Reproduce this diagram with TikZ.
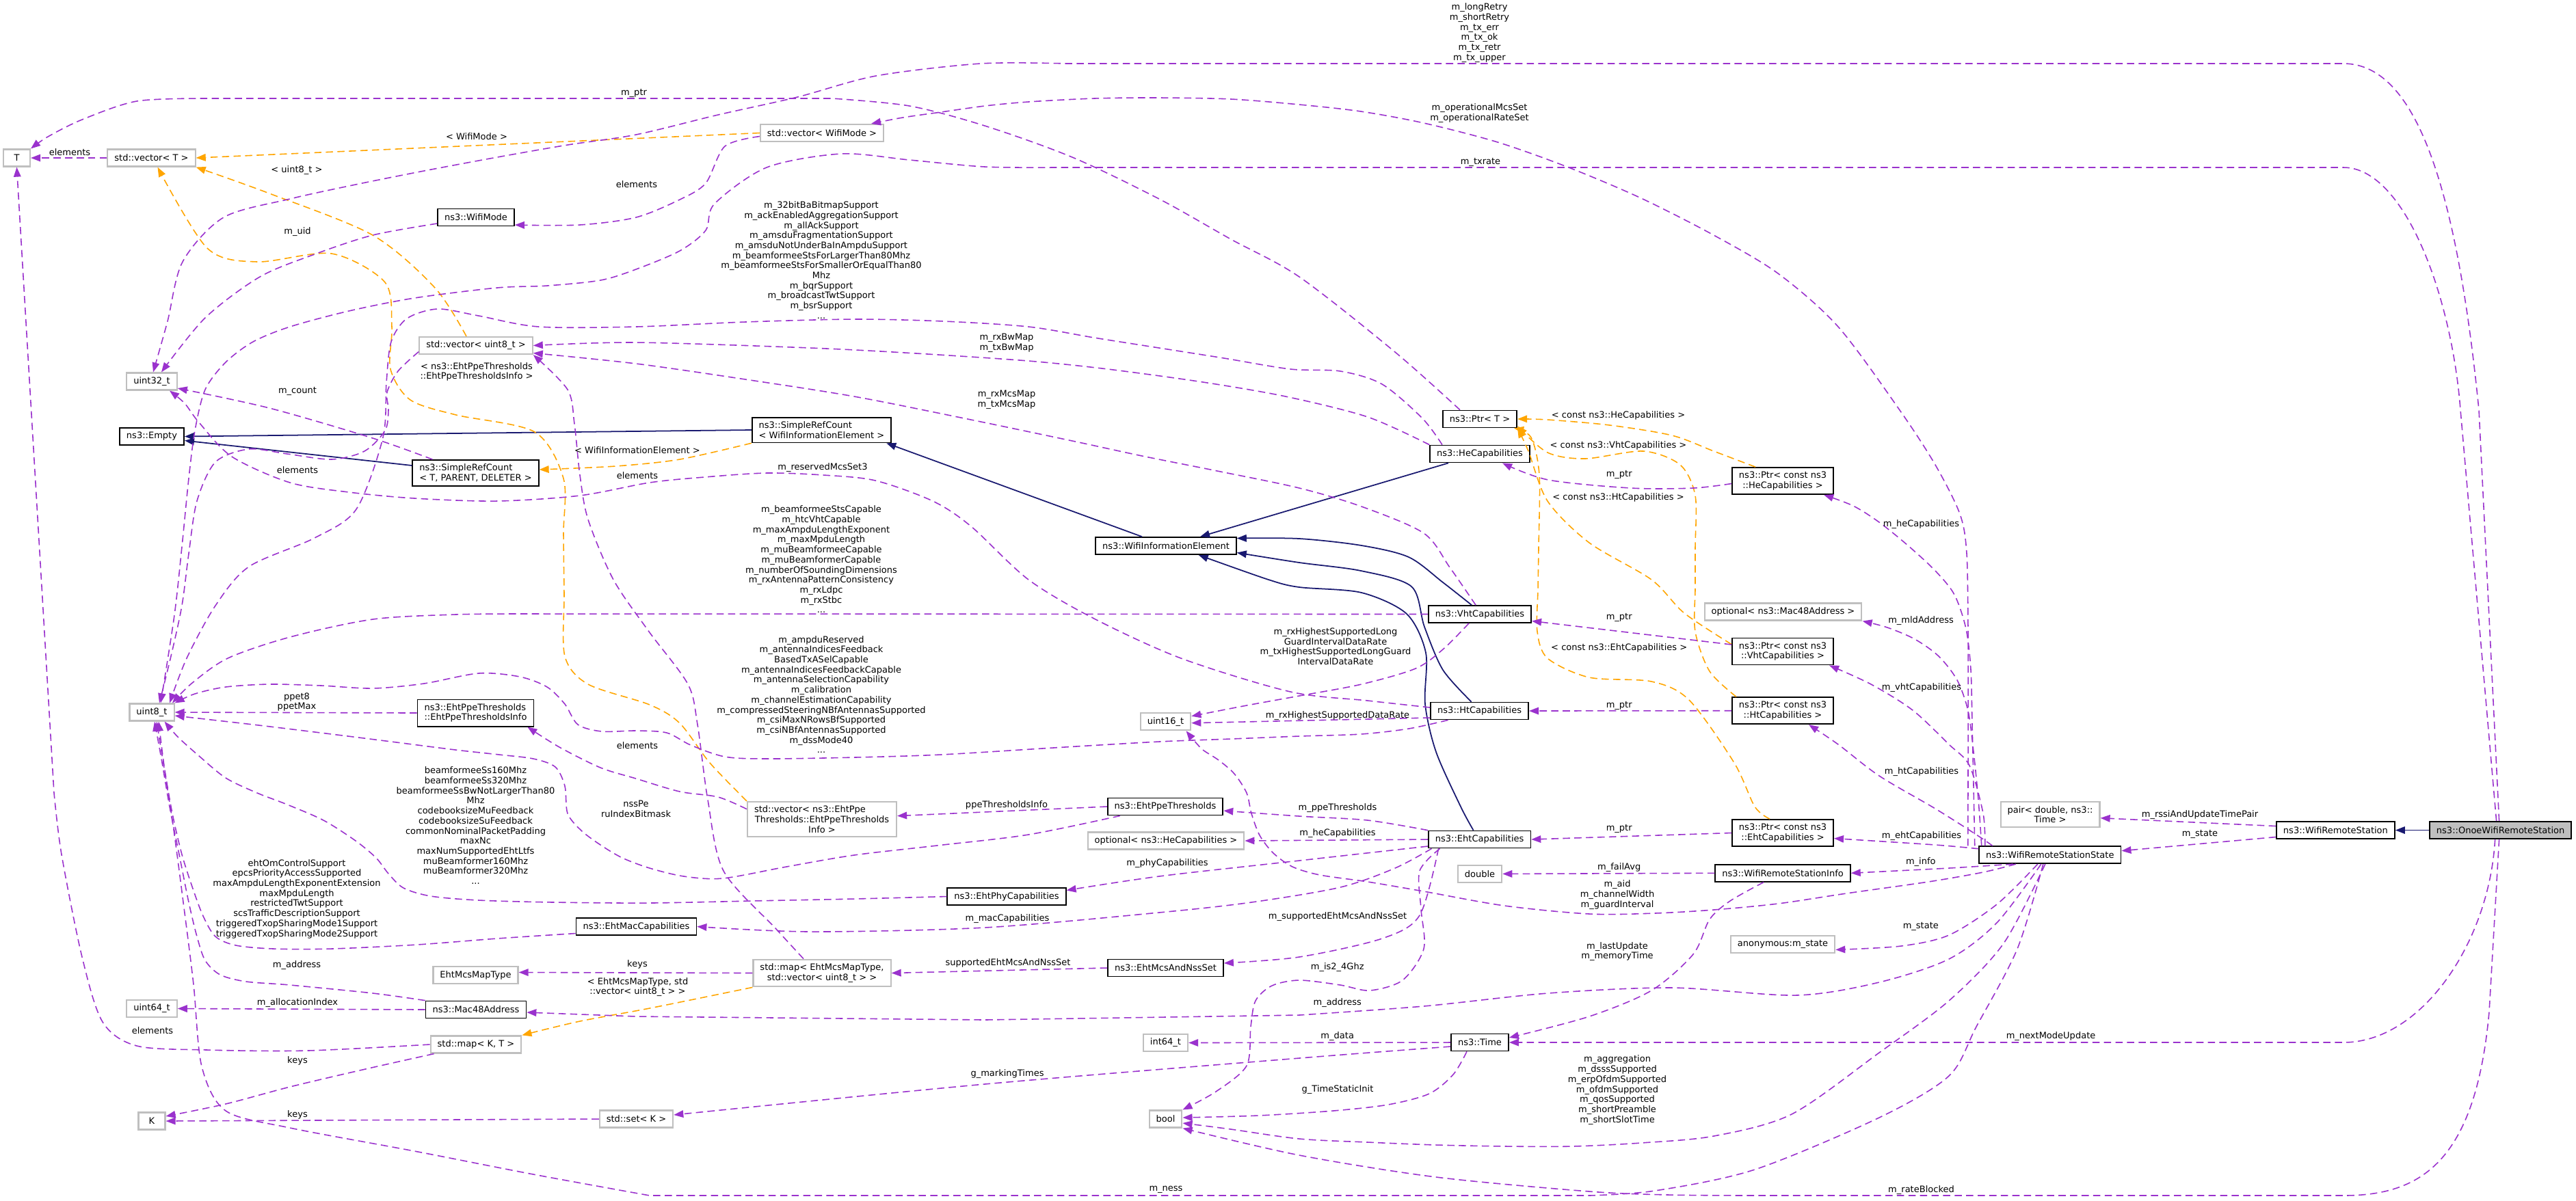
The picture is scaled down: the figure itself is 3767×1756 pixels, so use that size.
\documentclass[tikz,border=0pt]{standalone}
\usepackage{fontspec}
\usepackage{tikz}
\usetikzlibrary{arrows.meta}
\newfontfamily\doxfont{DejaVu Sans}
\newcommand{\doxsize}{\doxfont\fontsize{3.7pt}{4.18pt}\selectfont}
\definecolor{memcolor}{HTML}{9A32CD}
\definecolor{tmplcolor}{HTML}{FFA500}
\definecolor{inhcolor}{HTML}{191970}
\definecolor{boxgray}{HTML}{BFBFBF}
\tikzset{
  box/.style={rectangle, font=\doxsize, inner xsep=0.1cm, inner ysep=0.06cm, minimum height=0.25cm, minimum width=0.39cm, line width=0.5pt, fill=white},
  cls/.style={box, draw=black},
  ext/.style={box, draw=boxgray, line width=0.6pt},
  mainbox/.style={box, draw=black, fill=boxgray},
  lbl/.style={font=\doxsize, inner sep=0pt, align=center},
  mem/.style={draw=memcolor, line width=0.45pt, dash pattern=on 3pt off 1.8pt, -{Triangle[length=4pt,width=3pt]}},
  tmpl/.style={mem, draw=tmplcolor},
  inh/.style={draw=inhcolor, line width=0.5pt, -{Triangle[length=4pt,width=3pt]}},
}
\begin{document}
\begin{tikzpicture}[x=0.01cm, y=-0.01cm]
\useasboundingbox (0,0) rectangle (3767,1756);

\node[ext] (T) at (24.5,231) {T};
\node[ext] (vecT) at (221.5,231) {std::vector< T >};
\node[ext] (vecWM) at (1202,194.5) {std::vector< WifiMode >};
\node[cls] (wifiMode) at (696,318) {ns3::WifiMode};
\node[ext] (vecU8) at (696,505.5) {std::vector< uint8\_t >};
\node[ext] (u32) at (222,558) {uint32\_t};
\node[cls] (empty) at (222,638.5) {ns3::Empty};
\node[cls, align=left] (srcT) at (695.5,692) {ns3::SimpleRefCount\\< T, PARENT, DELETER >};
\node[cls, align=left] (srcWIE) at (1201.5,629) {ns3::SimpleRefCount\\< WifiInformationElement >};
\node[cls] (wie) at (1705,798.5) {ns3::WifiInformationElement};
\node[ext] (u8) at (222,1042) {uint8\_t};
\node[cls, align=left] (ppeInfo) at (695.5,1043) {ns3::EhtPpeThresholds\\::EhtPpeThresholdsInfo};
\node[ext] (u16) at (1704.5,1055.7) {uint16\_t};
\node[ext, align=center] (vecPpe) at (1202,1198.6) {std::vector< ns3::EhtPpe\hspace*{0.35cm}\\Thresholds::EhtPpeThresholds\\Info >};
\node[cls] (ppe) at (1704,1180) {ns3::EhtPpeThresholds};
\node[ext] (optHe) at (1705,1230) {optional< ns3::HeCapabilities >};
\node[cls] (ehtPhy) at (1472,1311.5) {ns3::EhtPhyCapabilities};
\node[cls] (ehtMac) at (930.5,1355.5) {ns3::EhtMacCapabilities};
\node[ext] (mcsType) at (695.5,1426.5) {EhtMcsMapType};
\node[ext, align=center] (mapMcs) at (1202,1423.5) {std::map< EhtMcsMapType,\\std::vector< uint8\_t > >};
\node[cls] (mcsNss) at (1704.5,1416) {ns3::EhtMcsAndNssSet};
\node[ext] (u64) at (222,1475.5) {uint64\_t};
\node[cls] (mac) at (696,1477) {ns3::Mac48Address};
\node[ext] (mapKT) at (696,1528) {std::map< K, T >};
\node[ext] (K) at (222,1640) {K};
\node[ext] (setK) at (930.5,1637) {std::set< K >};
\node[ext] (i64) at (1704.5,1525.5) {int64\_t};
\node[ext] (boolT) at (1704.5,1637) {bool};
\node[cls] (ptrT) at (2164,613) {ns3::Ptr< T >};
\node[cls] (heCap) at (2164,664) {ns3::HeCapabilities};
\node[cls] (vhtCap) at (2164,898.5) {ns3::VhtCapabilities};
\node[cls] (htCap) at (2163.6,1040) {ns3::HtCapabilities};
\node[cls] (ehtCap) at (2163.6,1228) {ns3::EhtCapabilities};
\node[ext] (dbl) at (2164,1278.4) {double};
\node[cls] (timeN) at (2164,1525) {ns3::Time};
\node[cls, align=center] (ptrHe) at (2607,703.5) {ns3::Ptr< const ns3\\::HeCapabilities >};
\node[ext] (optMac) at (2607.5,895) {optional< ns3::Mac48Address >};
\node[cls, align=center] (ptrVht) at (2607,953) {ns3::Ptr< const ns3\\::VhtCapabilities >};
\node[cls, align=center] (ptrHt) at (2607,1039.7) {ns3::Ptr< const ns3\\::HtCapabilities >};
\node[cls, align=center] (ptrEht) at (2607,1218.5) {ns3::Ptr< const ns3\\::EhtCapabilities >};
\node[cls] (info) at (2607,1277.3) {ns3::WifiRemoteStationInfo};
\node[ext] (anon) at (2607,1381.4) {anonymous:m\_state};
\node[ext, align=center] (pair) at (2998,1191.7) {pair< double, ns3::\\Time >};
\node[cls] (wrss) at (2997.8,1250.7) {ns3::WifiRemoteStationState};
\node[cls] (wrs) at (3415.4,1214.5) {ns3::WifiRemoteStation};
\node[mainbox] (onoe) at (3656.6,1214.5) {ns3::OnoeWifiRemoteStation};

\draw[inh] (onoe.west) -- (wrs.east);
\draw[inh] ([yshift=.11cm]srcT.west) -- ([yshift=-.06cm]empty.east);
\draw[inh] (srcWIE.west) -- (empty.east);
\draw[inh] ([xshift=-.35cm]wie.north) -- ([xshift=-.08cm]srcWIE.south east);
\draw[inh] ([xshift=-.46cm]heCap.south) -- ([xshift=.5cm]wie.north);
\draw[inh] plot[smooth] coordinates {([xshift=-.12cm]vhtCap.north) (2110,852) (2060,815) (1991,798) (1900,788) ([yshift=.11cm]wie.east)};
\draw[inh] plot[smooth] coordinates {([xshift=-.12cm]htCap.north) (2110,980) (2083,917) (2064,858) (1990,835) (1900,823) ([yshift=-.1cm]wie.east)};
\draw[inh] plot[smooth] coordinates {([xshift=-.09cm]ehtCap.north) (2136,1180) (2100,1100) (2084,1030) (2085,955) (2057,898) (1991,867) (1900,859) (1855,848) ([xshift=-.56cm]wie.south east)};

\draw[tmpl] (vecWM.west) -- (vecT.east);
\draw[tmpl] plot[smooth] coordinates {([xshift=-.14cm]vecU8.north) (636,421) (545,344) (394,283) (vecT.south east)};
\draw[tmpl] plot[smooth] coordinates {(vecPpe.north west) (1038,1116) (994,1058) (950,1031) (860,1001) (826,960) (825,870) (824,780) (824,700) (782,632) (667,607) (600,585) (571,540) (573,478) (563,413) (485,371) (376,383) (303,363) ([xshift=.09cm]vecT.south)};
\draw[tmpl] plot[smooth] coordinates {(srcWIE.south west) (994,672) (900,682) ([yshift=.05cm]srcT.east)};
\draw[tmpl] plot[smooth] coordinates {(mapMcs.south west) (950,1475) (848,1494) (mapKT.north east)};
\draw[tmpl] plot[smooth] coordinates {([xshift=-.4cm]ptrHe.north) (2506,660) (2445,637) (2354,622) (2263,614) (ptrT.east)};
\draw[tmpl] plot[smooth] coordinates {([yshift=-.1cm]ptrVht.north west) (2463,897) (2415,848) (2324,794) (2263,733) (2235,660) (ptrT.south east)};
\draw[tmpl] plot[smooth] coordinates {([xshift=-.68cm]ptrHt.north) (2500,982) (2479,924) (2479,860) (2479,800) (2479,725) (2457,680) (2403,660) (2318,671) (2263,662) ([yshift=.03cm]ptrT.south east)};
\draw[tmpl] plot[smooth] coordinates {([xshift=-.19cm]ptrEht.north) (2566,1180) (2536,1116) (2470,1024) (2415,997) (2324,991) (2263,963) (2248,924) (2249,862) (2250,800) (2251,695) (2239,640) ([xshift=-.05cm]ptrT.south east)};

\draw[mem] (vecT.west) -- (T.east);
\draw[mem] plot[smooth] coordinates {([xshift=.26cm]ptrT.north west) (2040,515) (1900,405) (1800,350) (1695,291) (1568,230) (1440,184) (1330,155) (1217,144)} -- (300,144) -- plot[smooth] coordinates {(300,144) (200,148) (120,175) (70,200) (T.north east)};
\draw[mem] plot[smooth] coordinates {(mapKT.west) (450,1537) (303,1536) (200,1530) (150,1495) (120,1400) (90,1250) (79,1160)} -- (T.south);
\draw[mem] ([xshift=-.02cm]onoe.north) -- (3625,600) .. controls (3595,300) and (3540,93) .. (3427,93) -- (1560,93) -- plot[smooth] coordinates {(1560,93) (1434,93) (1281,111) (1166,142) (1050,168) (930,197) (830,212) (727,230) (620,250) (520,270) (424,291) (327,318) (267,383) (245,470) ([xshift=.02cm]u32.north)};
\draw[mem] ([xshift=-.06cm]onoe.north) -- (3598,600) .. controls (3585,430) and (3515,245) .. (3427,245) -- (1540,245) -- plot[smooth] coordinates {(1540,245) (1440,244) (1330,234) (1230,225) (1121,245) (1045,298) (1032,337) (994,367) (930,394) (878,410) (800,418) (727,421) (606,436) (510,455) (424,478) (370,500) (330,530) (300,570) (285,630) (276,700) (266,800) (255,900) ([xshift=.13cm]u8.north)};
\draw[mem] plot[smooth] coordinates {([yshift=-.09cm]wifiMode.west) (545,344) (460,372) (380,405) (300,465) ([xshift=.14cm]u32.north)};
\draw[mem] plot[smooth] coordinates {([xshift=.3cm]srcT.north west) (545,641) (394,597) ([yshift=-.1cm]u32.east)};
\draw[mem] plot[smooth] coordinates {([yshift=-.05cm]vecWM.west) (1060,214) (1032,268) (994,292) (930,318) (848,329) ([yshift=-.11cm]wifiMode.east)};
\draw[mem] plot[smooth] coordinates {(heCap.north west) (2000,610) (1880,580) (1759,559) (1620,540) (1504,528) (1340,517) (1185,509) (930,501) (vecU8.east)};
\draw[mem] plot[smooth] coordinates {([xshift=-.06cm]vhtCap.north) (2120,830) (2082,780) (1991,741) (1900,714) (1780,689) (1670,667) (1568,645) (1410,612) (1249,580) (1090,555) (930,532) ([yshift=-.11cm]vecU8.east)};
\draw[mem] plot[smooth] coordinates {([xshift=-.55cm]heCap.north) (2080,612) (2021,562) (1960,543) (1887,540) (1790,524) (1695,509) (1600,494) (1504,478) (1380,470) (1249,467) (1090,471) (930,478) (788,478) (700,462) (640,452) (595,466) (572,500) (565,560) (560,640) (521,745) (460,787) (364,829) (315,886) (273,963) ([xshift=.26cm]u8.north)};
\draw[mem] (vhtCap.west) -- (760,898) -- plot[smooth] coordinates {(760,898) (666,899) (545,906) (424,932) (333,963) (280,1000) ([xshift=.3cm]u8.north)};
\draw[mem] plot[smooth] coordinates {([xshift=-.46cm]htCap.south) (2060,1066) (1990,1074) (1900,1077) (1800,1081) (1695,1085) (1540,1094) (1376,1104) (1250,1108) (1121,1110) (1060,1107) (1010,1090) (975,1072) (930,1069) (880,1070) (845,1060) (826,1030) (800,1005) (760,990) (700,985) (620,1000) (545,1007) (470,1003) (394,1001) (330,1005) (285,1015) (u8.north east)};
\draw[mem] ([yshift=-.1cm]htCap.west) -- ([yshift=-.02cm]u16.east);
\draw[mem] plot[smooth] coordinates {([xshift=-.16cm]vhtCap.south) (2110,950) (2070,978) (1991,1001) (1900,1018) (1823,1032) ([yshift=.08cm]u16.east)};
\draw[mem] plot[smooth] coordinates {([xshift=-.5cm]wrss.south) (2900,1276) (2820,1290) (2700,1307) (2600,1322) (2506,1331) (2420,1336) (2324,1337) (2200,1325) (2082,1304) (2000,1290) (1930,1280) (1890,1268) (1862,1248) (1842,1222) (1830,1190) (1823,1160) (1805,1132) (1782,1112) (1759,1097) (1745,1082) ([xshift=.3cm]u16.south)};
\draw[mem] (ppeInfo.west) -- (u8.east);
\draw[mem] plot[smooth] coordinates {([xshift=-.66cm]ppe.south) (1504,1221) (1370,1237) (1249,1251) (1150,1268) (1057,1285) (1000,1282) (950,1270) (910,1255) (878,1236) (850,1215) (830,1190) (826,1150) (812,1122) (780,1110) (730,1104) (666,1097) (580,1086) (485,1074) (370,1060) ([yshift=-.05cm]u8.east)};
\draw[mem] plot[smooth] coordinates {(ehtPhy.west) (1250,1315) (1100,1318) (950,1321) (810,1320) (700,1317) (630,1311) (590,1299) (568,1278) (550,1255) (520,1230) (473,1200) (420,1177) (376,1160) (330,1138) (290,1105) (260,1078) ([xshift=-.15cm]u8.south east)};
\draw[mem] plot[smooth] coordinates {([yshift=-.1cm]ehtMac.west) (727,1373) (610,1382) (485,1388) (400,1388) (345,1383) (315,1370) (297,1340) (282,1300) (266,1250) (252,1190) (240,1120) ([xshift=.1cm]u8.south)};
\draw[mem] plot[smooth] coordinates {(mac.north west) (545,1453) (424,1441) (360,1436) (322,1426) (300,1405) (288,1370) (276,1320) (262,1250) (248,1180) (236,1110) ([xshift=.04cm]u8.south)};
\draw[mem] plot[smooth] coordinates {([xshift=-.1cm]wrss.south) (2950,1388) (2890,1502) (2850,1574) (2748,1635) (2566,1711) (2420,1742) (2324,1749)} -- (950,1749) -- plot[smooth] coordinates {(950,1749) (780,1718) (606,1684) (424,1650) (330,1625) (295,1560) (283,1440) (268,1320) (252,1200) ([xshift=.07cm]u8.south)};
\draw[mem] ([xshift=-.02cm]onoe.south) -- (3640,1480) .. controls (3620,1700) and (3540,1749) .. (3427,1749) -- (2560,1749) -- plot[smooth] coordinates {(2560,1749) (2440,1748) (2324,1743) (2100,1722) (1900,1690) (boolT.south east)};
\draw[mem] plot[smooth] coordinates {([xshift=-.19cm]timeN.south) (2125,1572) (2090,1600) (2030,1616) (1950,1625) (1840,1632) ([yshift=.02cm]boolT.east)};
\draw[mem] plot[smooth] coordinates {([xshift=-.07cm]wrss.south) (2930,1380) (2850,1464) (2748,1540) (2620,1630) (2506,1662) (2400,1672) (2300,1677) (2203,1677) (2100,1675) (2000,1671) (1900,1666) (1800,1652) ([yshift=-.06cm]boolT.east)};
\draw[mem] plot[smooth] coordinates {([xshift=-.58cm]ehtCap.south) (2076,1274) (2078,1330) (2082,1388) (2051,1434) (2003,1449) (1960,1441) (1900,1434) (1860,1442) (1836,1464) (1829,1502) (1823,1559) (1778,1597) (boolT.north east)};
\draw[mem] (ppe.west) -- ([yshift=.05cm]vecPpe.east);
\draw[mem] plot[smooth] coordinates {([yshift=.15cm]vecPpe.west) (1050,1166) (994,1158) (930,1139) (878,1123) (818,1093) ([xshift=-.1cm]ppeInfo.south east)};
\draw[mem] plot[smooth] coordinates {(ehtCap.north west) (2000,1200) (1900,1194) ([yshift=-.06cm]ppe.east)};
\draw[mem] (ehtCap.west) -- (optHe.east);
\draw[mem] plot[smooth] coordinates {([yshift=-.1cm]ehtCap.west) (1900,1259) (1695,1282) ([yshift=.09cm]ehtPhy.east)};
\draw[mem] plot[smooth] coordinates {([xshift=-.7cm]ehtCap.south) (2040,1270) (1960,1298) (1830,1320) (1695,1335) (1440,1357) (1185,1363) (ehtMac.east)};
\draw[mem] plot[smooth] coordinates {([xshift=-.6cm]ehtCap.south) (2076,1339) (2021,1373) (1900,1400) ([yshift=.07cm]mcsNss.east)};
\draw[mem] (mcsNss.west) -- (mapMcs.east);
\draw[mem] (mapMcs.west) -- ([yshift=.04cm]mcsType.east);
\draw[mem] plot[smooth] coordinates {([xshift=-.27cm]mapMcs.north) (1134,1358) (1058,1274) (1035,1170) (1020,1060) (1006,1001) (949,924) (897,848) (860,760) (848,695) (840,620) (830,570) (vecU8.south east)};
\draw[mem] (mac.west) -- (u64.east);
\draw[mem] plot[smooth] coordinates {([xshift=.06cm]mapKT.south west) (530,1565) (424,1590) (330,1615) ([yshift=.07cm]K.east)};
\draw[mem] (setK.west) -- (K.east);
\draw[mem] plot[smooth] coordinates {([yshift=-.06cm]timeN.west) (1900,1548) (1440,1586) ([yshift=.06cm]setK.east)};
\draw[mem] (timeN.west) -- (i64.east);
\draw[mem] (info.west) -- (dbl.east);
\draw[mem] plot[smooth] coordinates {([xshift=-.28cm]info.south) (2530,1318) (2500,1345) (2476,1396) (2415,1449) (2324,1487) ([yshift=.07cm]timeN.east)};
\draw[mem] plot[smooth] coordinates {([xshift=-.54cm]wrss.south) (2850,1270) (info.east)};
\draw[mem] plot[smooth] coordinates {([yshift=.09cm]wrss.west) (2830,1236) ([yshift=-.08cm]ptrEht.east)};
\draw[mem] plot[smooth] coordinates {([xshift=-.18cm]wrss.south) (2920,1323) (2850,1368) (2780,1384) ([yshift=-.08cm]anon.east)};
\draw[mem] plot[smooth] coordinates {([xshift=-.13cm]wrss.south) (2920,1350) (2850,1403) (2748,1437) (2627,1456) (2445,1445) (2264,1453) (2082,1472) (1900,1485)} -- (1440,1492) -- (930,1487) -- ([yshift=-.04cm]mac.east);
\draw[mem] plot[smooth] coordinates {([xshift=-1.2cm]wrss.north) (2878,1120) (2878,1000) (2878,924) (2876,810) (2866,752) (2830,680) (2778,600) (2688,478) (2600,400) (2506,344) (2400,290) (2294,245) (2190,208) (2082,180) (1990,163) (1900,153) (1800,145) (1695,143) (1600,144) (1504,149) (1440,155) (1376,164) (1320,172) ([xshift=.72cm]vecWM.north)};
\draw[mem] plot[smooth] coordinates {([xshift=-1.1cm]wrss.north) (2886,1150) (2884,1060) (2882,980) (2875,920) (2858,870) (2830,835) (2790,798) (2748,764) (2710,740) ([xshift=.6cm]ptrHe.south)};
\draw[mem] plot[smooth] coordinates {([xshift=-1cm]wrss.north) (2893,1170) (2886,1100) (2878,1040) (2862,995) (2835,960) (2800,935) (2760,918) ([xshift=1.16cm]optMac.south)};
\draw[mem] plot[smooth] coordinates {([xshift=-.95cm]wrss.north) (2900,1190) (2880,1120) (2850,1089) (2797,1039) (2736,1001) ([xshift=.68cm]ptrVht.south)};
\draw[mem] plot[smooth] coordinates {([xshift=-.84cm]wrss.north) (2890,1221) (2830,1183) (2748,1135) (2688,1089) ([xshift=.38cm]ptrHt.south)};
\draw[mem] ([yshift=.06cm]wrs.west) -- ([yshift=-.05cm]pair.east);
\draw[mem] ([yshift=-.1cm]wrs.west) -- ([yshift=.06cm]wrss.east);
\draw[mem] ([xshift=-.08cm]onoe.south) .. controls (3640,1380) and (3540,1525) .. (3427,1525) -- (timeN.east);
\draw[mem] plot[smooth] coordinates {([yshift=-.04cm]ptrHe.west) (2476,714) (2385,714) (2264,702) ([xshift=.33cm]heCap.south)};
\draw[mem] ([yshift=.1cm]ptrVht.west) -- ([yshift=-.1cm]vhtCap.east);
\draw[mem] (ptrHt.west) -- (htCap.east);
\draw[mem] (ptrEht.west) -- (ehtCap.east);
\draw[mem] plot[smooth] coordinates {([yshift=-.09cm]vecU8.west) (582,543) (566,574) (568,600) (563,630) (533,660) (485,672) (420,664) (364,657) (315,676) (288,733) (276,810) (266,886) (250,960) ([xshift=.11cm]u8.north)};
\draw[mem] plot[smooth] coordinates {([yshift=.05cm]htCap.west) (2000,1025) (1887,1012) (1727,963) (1600,905) (1504,848) (1420,770) (1364,733) (1280,703) (1204,695) (1121,692) (1030,698) (950,706) (848,725) (727,733) (606,729) (510,720) (424,706) (339,668) (291,618) (270,590) ([xshift=.26cm]u32.south)};

\node[lbl] (lRetry) at (2163.5,48) {m\_longRetry\\m\_shortRetry\\m\_tx\_err\\m\_tx\_ok\\m\_tx\_retr\\m\_tx\_upper};
\node[lbl] (lPtrT) at (927,136) {m\_ptr};
\node[lbl] (lOpSet) at (2163.5,165.7) {m\_operationalMcsSet\\m\_operationalRateSet};
\node[lbl] (lWifiMode) at (697,200) {< WifiMode >};
\node[lbl] (lElemT) at (102,223) {elements};
\node[lbl] (lTxrate) at (2165,237) {m\_txrate};
\node[lbl] (lU8tmpl) at (434,249) {< uint8\_t >};
\node[lbl] (lElemWM) at (931,270) {elements};
\node[lbl] (lUid) at (435,339) {m\_uid};
\node[lbl] (lHeFlags) at (1201,380.5) {m\_32bitBaBitmapSupport\\m\_ackEnabledAggregationSupport\\m\_allAckSupport\\m\_amsduFragmentationSupport\\m\_amsduNotUnderBaInAmpduSupport\\m\_beamformeeStsForLargerThan80Mhz\\m\_beamformeeStsForSmallerOrEqualThan80\\Mhz\\m\_bqrSupport\\m\_broadcastTwtSupport\\m\_bsrSupport\\...};
\node[lbl] (lBwMap) at (1472,502) {m\_rxBwMap\\m\_txBwMap};
\node[lbl] (lPpeTmpl) at (697,544) {< ns3::EhtPpeThresholds\\::EhtPpeThresholdsInfo >};
\node[lbl] (lCount) at (435,572) {m\_count};
\node[lbl] (lMcsMap) at (1472,584.5) {m\_rxMcsMap\\m\_txMcsMap};
\node[lbl] (lHeTmpl) at (2366.5,607.6) {< const ns3::HeCapabilities >};
\node[lbl] (lVhtTmpl) at (2366.5,651.6) {< const ns3::VhtCapabilities >};
\node[lbl] (lWieTmpl) at (932,658.5) {< WifiInformationElement >};
\node[lbl] (lMcsSet3) at (1203,683.7) {m\_reservedMcsSet3};
\node[lbl] (lElemU8) at (435,687.5) {elements};
\node[lbl] (lElemVec) at (932,696) {elements};
\node[lbl] (lPtrHe) at (2367.7,694.8) {m\_ptr};
\node[lbl] (lHtTmpl) at (2366.5,727.7) {< const ns3::HtCapabilities >};
\node[lbl] (lHeCap) at (2809.5,767) {m\_heCapabilities};
\node[lbl] (lVhtFlags) at (1201,818.4) {m\_beamformeeStsCapable\\m\_htcVhtCapable\\m\_maxAmpduLengthExponent\\m\_maxMpduLength\\m\_muBeamformeeCapable\\m\_muBeamformerCapable\\m\_numberOfSoundingDimensions\\m\_rxAntennaPatternConsistency\\m\_rxLdpc\\m\_rxStbc\\...};
\node[lbl] (lPtrVht) at (2367.7,903.7) {m\_ptr};
\node[lbl] (lMld) at (2809,907.6) {m\_mldAddress};
\node[lbl] (lLongGi) at (1953,945.5) {m\_rxHighestSupportedLong\\GuardIntervalDataRate\\m\_txHighestSupportedLongGuard\\IntervalDataRate};
\node[lbl] (lEhtTmpl) at (2367.7,947.4) {< const ns3::EhtCapabilities >};
\node[lbl] (lVhtCap) at (2810,1006) {m\_vhtCapabilities};
\node[lbl] (lHtFlags) at (1201,1016) {m\_ampduReserved\\m\_antennaIndicesFeedback\hspace*{1.24cm}\\BasedTxASelCapable\\m\_antennaIndicesFeedbackCapable\\m\_antennaSelectionCapability\\m\_calibration\\m\_channelEstimationCapability\\m\_compressedSteeringNBfAntennasSupported\\m\_csiMaxNRowsBfSupported\\m\_csiNBfAntennasSupported\\m\_dssMode40\\...};
\node[lbl] (lPpet) at (434,1027) {ppet8\\ppetMax};
\node[lbl] (lPtrHt) at (2367.7,1032) {m\_ptr};
\node[lbl] (lDataRate) at (1956,1046.7) {m\_rxHighestSupportedDataRate};
\node[lbl] (lElemPpe) at (932,1091) {elements};
\node[lbl] (lHtCap) at (2810,1128.6) {m\_htCapabilities};
\node[lbl] (lPpeInfo) at (1472,1178) {ppeThresholdsInfo};
\node[lbl] (lPpeThr) at (1956,1182.4) {m\_ppeThresholds};
\node[lbl] (lNssPe) at (930,1183) {nssPe\\ruIndexBitmask};
\node[lbl] (lRssi) at (3217,1192) {m\_rssiAndUpdateTimePair};
\node[lbl] (lPhyFlags) at (695.5,1207.7) {beamformeeSs160Mhz\\beamformeeSs320Mhz\\beamformeeSsBwNotLargerThan80\\Mhz\\codebooksizeMuFeedback\\codebooksizeSuFeedback\\commonNominalPacketPadding\\maxNc\\maxNumSupportedEhtLtfs\\muBeamformer160Mhz\\muBeamformer320Mhz\\...};
\node[lbl] (lPtrEht) at (2367.7,1212.8) {m\_ptr};
\node[lbl] (lOptHe) at (1956,1219.3) {m\_heCapabilities};
\node[lbl] (lState) at (3217,1220.8) {m\_state};
\node[lbl] (lEhtCap) at (2810,1223) {m\_ehtCapabilities};
\node[lbl] (lInfo) at (2808.8,1260.7) {m\_info};
\node[lbl] (lPhyCap) at (1707,1262.6) {m\_phyCapabilities};
\node[lbl] (lFailAvg) at (2367.7,1268.7) {m\_failAvg};
\node[lbl] (lAid) at (2365,1309) {m\_aid\\m\_channelWidth\\m\_guardInterval};
\node[lbl] (lMacFlags) at (434,1315) {ehtOmControlSupport\\epcsPriorityAccessSupported\\maxAmpduLengthExponentExtension\\maxMpduLength\\restrictedTwtSupport\\scsTrafficDescriptionSupport\\triggeredTxopSharingMode1Support\\triggeredTxopSharingMode2Support};
\node[lbl] (lMcsNss) at (1956,1340.6) {m\_supportedEhtMcsAndNssSet};
\node[lbl] (lMacCap) at (1473,1343.6) {m\_macCapabilities};
\node[lbl] (lAnon) at (2808.8,1355.7) {m\_state};
\node[lbl] (lUpdate) at (2365,1392) {m\_lastUpdate\\m\_memoryTime};
\node[lbl] (lMcsSet) at (1474,1408.6) {supportedEhtMcsAndNssSet};
\node[lbl] (lKeysMcs) at (932,1411) {keys};
\node[lbl] (lAddrU8) at (434,1411.6) {m\_address};
\node[lbl] (l24Ghz) at (1955.7,1415.4) {m\_is2\_4Ghz};
\node[lbl] (lMapTmpl) at (932.5,1444) {< EhtMcsMapType, std\\::vector< uint8\_t > >};
\node[lbl] (lAlloc) at (435,1467.5) {m\_allocationIndex};
\node[lbl] (lAddrMac) at (1955.7,1467.5) {m\_address};
\node[lbl] (lElemKT) at (223,1507.4) {elements};
\node[lbl] (lData) at (1955.7,1516.5) {m\_data};
\node[lbl] (lNextMode) at (2999,1516.5) {m\_nextModeUpdate};
\node[lbl] (lKeysMap) at (435,1552) {keys};
\node[lbl] (lMarking) at (1473,1571) {g\_markingTimes};
\node[lbl] (lStaticInit) at (1956,1594.4) {g\_TimeStaticInit};
\node[lbl] (lBoolFlags) at (2365,1594.6) {m\_aggregation\\m\_dsssSupported\\m\_erpOfdmSupported\\m\_ofdmSupported\\m\_qosSupported\\m\_shortPreamble\\m\_shortSlotTime};
\node[lbl] (lKeysSet) at (435,1630.5) {keys};
\node[lbl] (lNess) at (1705,1740.8) {m\_ness};
\node[lbl] (lBlocked) at (2809.5,1741) {m\_rateBlocked};
\end{tikzpicture}
\end{document}
